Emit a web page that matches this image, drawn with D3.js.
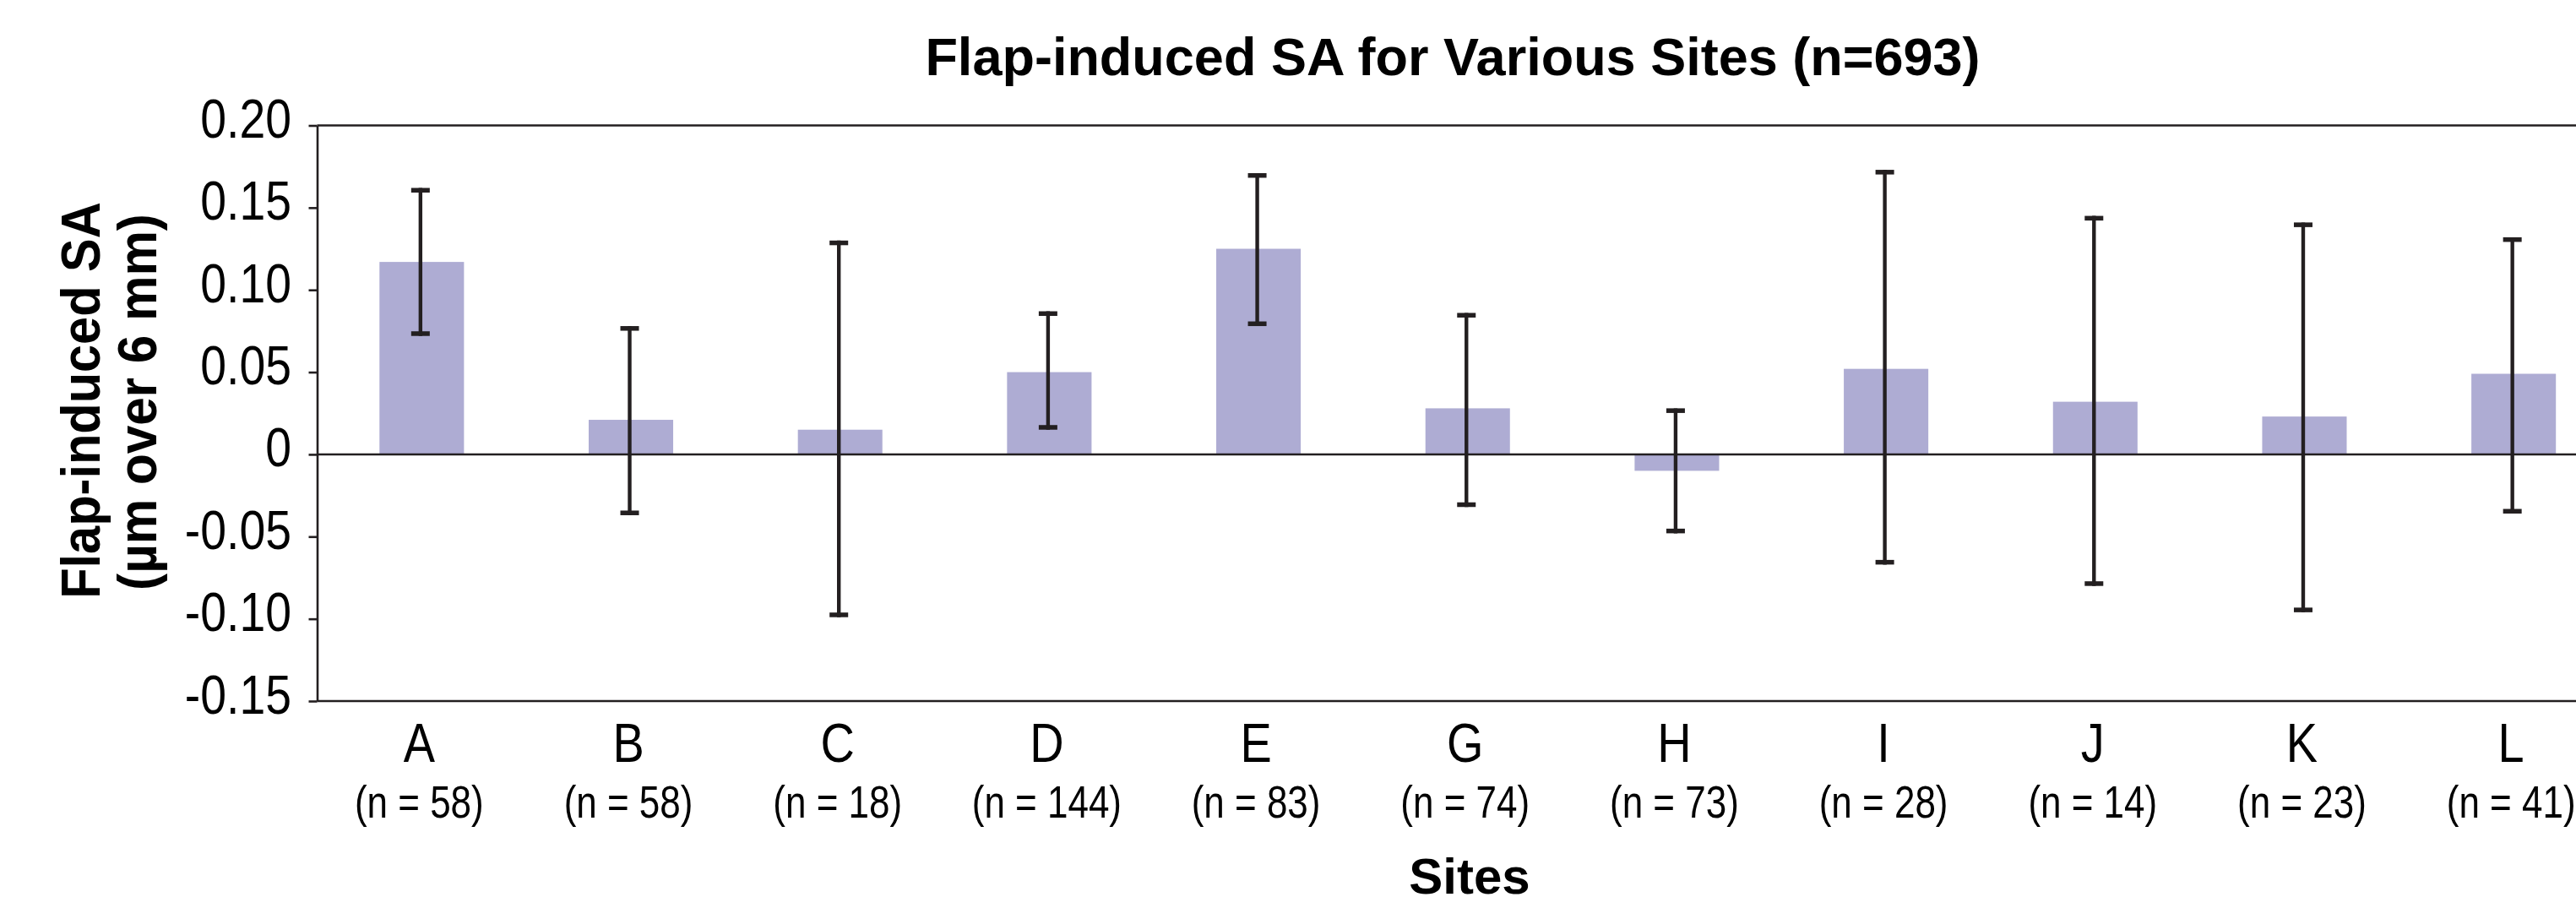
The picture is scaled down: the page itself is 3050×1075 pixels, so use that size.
<!DOCTYPE html>
<html>
<head>
<meta charset="utf-8">
<script src="https://cdn.jsdelivr.net/npm/d3@7"></script>
<style>
  html, body { margin: 0; padding: 0; background: #ffffff; }
  svg { display: block; }
</style>
</head>
<body>
<svg id="chart" width="3050" height="1075"></svg>
<script>
// ---- data ----
const sites = ["A", "B", "C", "D", "E", "G", "H", "I", "J", "K", "L"];
const counts = [58, 58, 18, 144, 83, 74, 73, 28, 14, 23, 41];
const meanSA = [0.117, 0.021, 0.015, 0.050, 0.125, 0.028, -0.010, 0.052, 0.032, 0.023, 0.049];
const errHigh = [0.162, 0.078, 0.130, 0.087, 0.171, 0.086, 0.028, 0.173, 0.145, 0.141, 0.132];
const errLow = [0.072, -0.037, -0.099, 0.015, 0.078, -0.032, -0.048, -0.067, -0.080, -0.096, -0.036];
const yTicks = [0.20, 0.15, 0.10, 0.05, 0, -0.05, -0.10, -0.15];
const titleText = "Flap-induced SA for Various Sites (n=693)";
const yLabel1 = "Flap-induced SA";
const yLabel2 = "(\u00b5m over 6 mm)";
const xLabel = "Sites";

(function () {
// ---- layout ----
const W = 3050, H = 1075;
const pLeft = 375.5, pRight = 3100, pTop = 148.5, pBottom = 830;
const ink = "#231f20";
const barColor = "#aeacd3";
const font = "'Liberation Sans', Arial, Helvetica, sans-serif";

const svg = d3.select("#chart");
svg.append("rect").attr("width", W).attr("height", H).attr("fill", "#fff");

const x = d3.scaleBand().domain(sites).range([pLeft, pRight]).paddingInner(0.596).paddingOuter(0.298);
const y = d3.scaleLinear().domain([-0.15, 0.20]).range([pBottom, pTop]);

const data = sites.map((s, i) => ({ s, n: counts[i], v: meanSA[i], hi: errHigh[i], lo: errLow[i] }));

// bars
svg.append("g").selectAll("rect").data(data).join("rect")
  .attr("x", d => x(d.s))
  .attr("width", x.bandwidth())
  .attr("y", d => y(Math.max(0, d.v)))
  .attr("height", d => Math.abs(y(d.v) - y(0)))
  .attr("fill", barColor);

// zero line
svg.append("line")
  .attr("x1", pLeft).attr("x2", W)
  .attr("y1", y(0)).attr("y2", y(0))
  .attr("stroke", ink).attr("stroke-width", 2.6);

// frame: top and bottom lines
[pTop, pBottom].forEach(yy => {
  svg.append("line").attr("x1", pLeft).attr("x2", W).attr("y1", yy).attr("y2", yy)
    .attr("stroke", ink).attr("stroke-width", 2.6);
});

// error bars
const eg = svg.append("g");
const capW = 22, capT = 5.5;
data.forEach(d => {
  const cx = x(d.s) + x.bandwidth() / 2 - 1.5;
  eg.append("line")
    .attr("x1", cx).attr("x2", cx)
    .attr("y1", y(d.hi)).attr("y2", y(d.lo))
    .attr("stroke", ink).attr("stroke-width", 4.4);
  eg.append("rect")
    .attr("x", cx - capW / 2).attr("width", capW)
    .attr("y", y(d.hi)).attr("height", capT)
    .attr("fill", ink);
  eg.append("rect")
    .attr("x", cx - capW / 2).attr("width", capW)
    .attr("y", y(d.lo) - capT).attr("height", capT)
    .attr("fill", ink);
});

// y axis
const yAxis = d3.axisLeft(y)
  .tickValues(yTicks)
  .tickSize(10)
  .tickSizeOuter(0)
  .tickFormat(v => v === 0 ? "0" : (v < 0 ? "-" : "") + Math.abs(v).toFixed(2));
const ya = svg.append("g").attr("transform", `translate(${pLeft},0)`).call(yAxis);
ya.select(".domain").attr("stroke", ink).attr("stroke-width", 2.6);
ya.selectAll(".tick line").attr("stroke", ink).attr("stroke-width", 2.6);
ya.selectAll(".tick text")
  .attr("x", null).attr("dy", null)
  .attr("transform", "translate(-30.5,14) scale(0.865,1)")
  .attr("text-anchor", "end")
  .attr("fill", "#000")
  .style("font-family", font)
  .style("font-size", "64px");

// x category labels
const xl = svg.append("g");
data.forEach(d => {
  const cx = x(d.s) + x.bandwidth() / 2 - 3;
  xl.append("text")
    .attr("transform", `translate(${cx},901.5) scale(0.86,1)`)
    .attr("text-anchor", "middle")
    .style("font-family", font).style("font-size", "65px")
    .attr("fill", "#000")
    .text(d.s);
  xl.append("text")
    .attr("transform", `translate(${cx},968) scale(0.83,1)`)
    .attr("text-anchor", "middle")
    .style("font-family", font).style("font-size", "53px")
    .attr("fill", "#000")
    .text(`(n = ${d.n})`);
});

// title
svg.append("text")
  .attr("x", 1720).attr("y", 89)
  .attr("text-anchor", "middle")
  .style("font-family", font).style("font-size", "63px").style("font-weight", "bold")
  .attr("fill", "#000")
  .text(titleText);

// y axis label
svg.append("text")
  .attr("transform", "translate(118,474) rotate(-90) scale(0.93,1)")
  .attr("text-anchor", "middle")
  .style("font-family", font).style("font-size", "64px").style("font-weight", "bold")
  .attr("fill", "#000")
  .text(yLabel1);
svg.append("text")
  .attr("transform", "translate(185,476) rotate(-90) scale(0.94,1)")
  .attr("text-anchor", "middle")
  .style("font-family", font).style("font-size", "64px").style("font-weight", "bold")
  .attr("fill", "#000")
  .text(yLabel2);

// x axis label
svg.append("text")
  .attr("x", 1740).attr("y", 1058)
  .attr("text-anchor", "middle")
  .style("font-family", font).style("font-size", "60px").style("font-weight", "bold")
  .attr("fill", "#000")
  .text(xLabel);
})();
</script>
</body>
</html>
